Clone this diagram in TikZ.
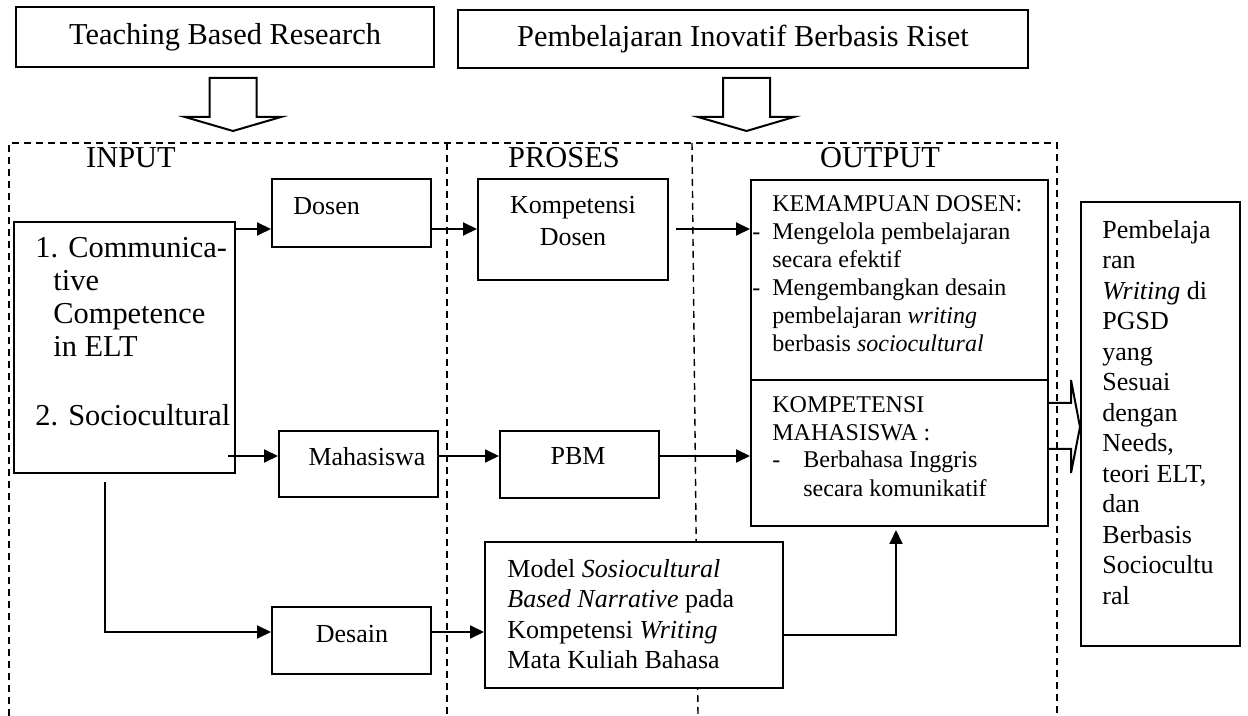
\documentclass[tikz,border=0pt]{standalone}
\usepackage{fontspec}
\setmainfont{Liberation Serif}
\usepackage{tikz}
\usetikzlibrary{arrows.meta,calc}
\tikzset{
kotak/.style = {rectangle, draw=black, line width=1pt, fill=white, minimum width = #1},
kotak/.default = 79.5pt, % lebar kotak kecil
teks/.style = {inner sep=0pt, font=\fontsize{13}{15.25}\selectfont},
judul/.style = {inner sep=0pt, font=\fontsize{15.2}{16.5}\selectfont},
kecil/.style = {inner sep=0pt, font=\fontsize{12}{14}\selectfont},
panah/.style = {line width=1pt, -{Triangle[length=7pt,width=6.5pt]}},
garis/.style = {line width=0.7pt, dash pattern=on 3.5pt off 2.5pt},
}

\begin{document}
\begin{tikzpicture}[x=0.5pt, y=-0.5pt]
    \useasboundingbox (0,0) rectangle (1248,716);
    % bingkai input - proses - output
    \draw[garis] (9,716) -- (9,143) -- (1057,143) -- (1057,716);
    \draw[garis] (447,143) -- (447,716);
    \draw[garis] (692,143) -- (698,716);

    \node[kotak=209pt, minimum height=30pt, judul] (teach) at (225,37) {Teaching Based Research};
    \node[kotak=285pt, minimum height=29pt, judul] (riset) at (743,39) {Pembelajaran Inovatif Berbasis Riset};
    \draw[line width=1pt] (209.5,78) -- (256.5,78) -- (256.5,117) -- (281,117) -- (233,131) -- (185,117) -- (209.5,117) -- cycle;
    \draw[line width=1pt] (723,78) -- (770,78) -- (770,117) -- (794,117) -- (746.5,131) -- (698,117) -- (723,117) -- cycle;

    \node[judul, anchor=base] (lblInput) at (131,168) {INPUT};
    \node[judul, anchor=base] (lblProses) at (564,168) {PROSES};
    \node[judul, anchor=base] (lblOutput) at (880,168) {OUTPUT};

    \node[kotak=110.5pt, minimum height=125.5pt] (inp) at (124.5,347.5) {};
    \node[kotak, minimum height=34pt] (dosen) at (351.5,213) {};
    \node[kotak=95pt, minimum height=50.5pt] (kompDosen) at (573,229.5) {};
    \node[kotak, minimum height=33pt] (mhs) at (358.5,464) {};
    \node[kotak, minimum height=33.5pt] (pbm) at (579.5,464.5) {};
    \node[kotak, minimum height=33.5pt] (desain) at (351.5,640.5) {};
    \node[kotak=149pt, minimum height=73pt] (model) at (634,615) {};
    \node[kotak=148.5pt, minimum height=100pt] (outDosen) at (899.5,280) {};
    \node[kotak=148.5pt, minimum height=73pt] (outMhs) at (899.5,453) {};
    \node[kotak, minimum height=222pt] (hasil) at (1160.5,424) {};

    % multi baris: base = baris terakhir
    \node[judul, anchor=base west, align=left] (tInp) at (35,426) {1. Communica-\\\hspace*{9pt}tive\\\hspace*{9pt}Competence\\\hspace*{9pt}in ELT\\[18pt]2. Sociocultural};
    \node[teks, anchor=base west] (tDosen) at (293,215) {Dosen};
    \node[teks, anchor=base, align=center] (tKomp) at (573,246) {Kompetensi\\[0.75pt]Dosen};
    \node[teks, anchor=base] (tMhs) at (367,466) {Mahasiswa};
    \node[teks, anchor=base] (tPbm) at (578,465) {PBM};
    \node[teks, anchor=base] (tDesain) at (352,642) {Desain};
    \node[teks, anchor=base west, align=left] (tModel) at (507,668.5) {Model \textit{Sosiocultural}\\\textit{Based Narrative} pada\\Kompetensi \textit{Writing}\\Mata Kuliah Bahasa};
    \node[kecil, anchor=base west, align=left] (tOutDosen) at (772,352) {KEMAMPUAN DOSEN:\\\llap{-\hspace{6pt}}Mengelola pembelajaran\\secara efektif\\\llap{-\hspace{6pt}}Mengembangkan desain\\pembelajaran \textit{writing}\\berbasis \textit{sociocultural}};
    \node[kecil, anchor=base west, align=left] (tOutMhs) at (772,496) {KOMPETENSI\\MAHASISWA :\\\makebox[15.5pt][l]{-}Berbahasa Inggris\\\hspace*{15.5pt}secara komunikatif};
    \node[teks, anchor=base west, align=left] (tHasil) at (1102,604) {Pembelaja\\ran\\\textit{Writing} di\\PGSD\\yang\\Sesuai\\dengan\\Needs,\\teori ELT,\\dan\\Berbasis\\Sociocultu\\ral};

    \coordinate (barisA) at (0,229);
    \coordinate (barisB) at (0,456);
    \coordinate (barisC) at (0,632);
    \coordinate (barisD) at (0,635);
    \draw[panah] (inp.east |- barisA) -- (dosen.west |- barisA);
    \draw[panah] (dosen.east |- barisA) -- (kompDosen.west |- barisA);
    \draw[panah] ($(kompDosen.east |- barisA)+(7,0)$) -- (outDosen.west |- barisA);
    \draw[panah] ($(inp.east |- barisB)+(-8,0)$) -- (mhs.west |- barisB);
    \draw[panah] (mhs.east |- barisB) -- (pbm.west |- barisB);
    \draw[panah] (pbm.east |- barisB) -- (outMhs.west |- barisB);
    \draw[panah] ($(inp.south)+(-19.5,8)$) |- (desain.west |- barisC);
    \draw[panah] (desain.east |- barisC) -- (model.west |- barisC);
    \draw[panah] (model.east |- barisD) -| ($(outMhs.south)+(-3.5,3)$);
    \draw[line width=1pt] (outMhs.east |- 0,403) -- (1071,403) -- (1071,380) -- (1080,427) -- (1071,473) -- (1071,449) -- (outMhs.east |- 0,449);
\end{tikzpicture}
\end{document}
